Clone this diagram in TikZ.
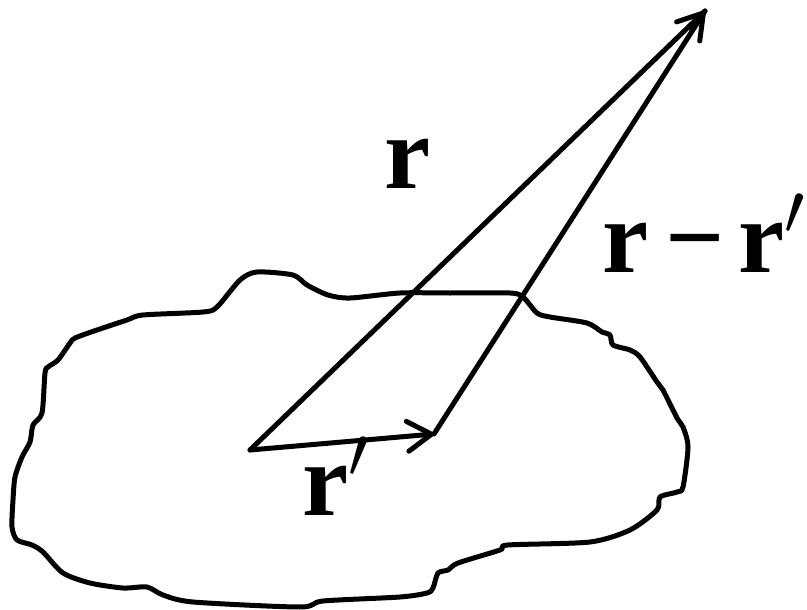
\documentclass[tikz,border=0pt]{standalone}
\usepackage{fix-cm}
\usepackage{fontspec}
\setmainfont{Liberation Serif}
\usetikzlibrary{arrows.meta,calc}

\begin{document}
\begin{tikzpicture}[x=1pt, y=-1pt,
      vec/.style={line width=5pt, line cap=round, line join=round},
      tip/.style={-{Straight Barb[length=24pt, width=30pt, line cap=round, line join=round]}},
      blob/.style={line width=5pt, line join=round},
      lbl/.style={font=\fontsize{104}{104}\selectfont\bfseries, inner sep=0pt, anchor=base west}
    ]
      \useasboundingbox (0,0) rectangle (807,610);

      \draw[blob] plot[smooth cycle, tension=0.45] coordinates {
        (240,280) (257,272) (293,275) (307,285) (328,295) (350,298) (400,293)
        (450,293) (510,293) (523,297) (537,313) (550,317) (587,323) (602,332)
        (610,335) (613,345) (630,350) (640,357) (657,382) (663,390) (677,418)
        (683,427) (688,447) (683,487) (677,492) (660,497) (657,510) (630,530)
        (590,542) (508,545) (500,550) (458,563) (448,570) (438,573) (433,588)
        (427,593) (400,597) (323,601) (300,607) (193,602) (163,595) (147,587)
        (123,588) (90,583) (63,573) (43,552) (32,545) (17,540) (12,527)
        (13,500) (15,477) (22,457) (30,442) (33,425) (42,413) (45,373)
        (48,367) (58,360) (70,343) (75,338) (97,330) (127,320) (143,315)
        (203,312) (217,307)};

      \coordinate (origin) at (250,450);
      \coordinate (source) at (434,434);
      \coordinate (field) at (705,11);
      \coordinate (fieldback) at ($(field)+(-14,17)$);

      \draw[vec, tip] (origin) -- (source);
      \draw[vec] (origin) -- (field);
      \draw[vec] (source) -- (field);
      \draw[vec, tip] (fieldback) -- (field);

      \node[lbl] (rlab) at (384,188) {r};
      \node[lbl] (difflab) at (602,272) {r\kern17pt−\kern14pt r$'$};
      \node[lbl] (rplab) at (302,515) {r$'$};
    \end{tikzpicture}
\end{document}
